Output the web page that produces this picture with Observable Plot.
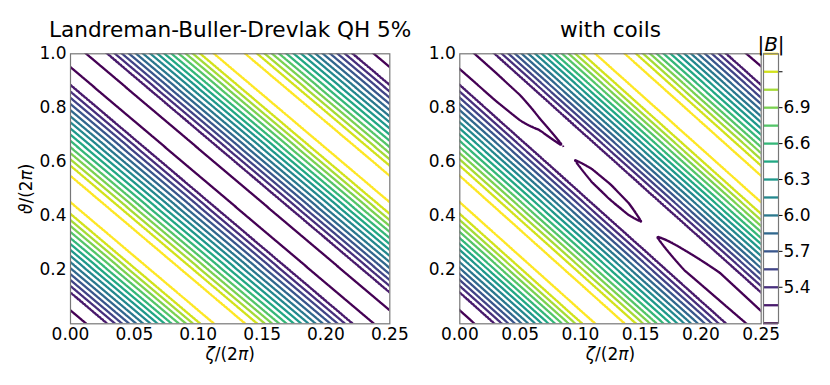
<!DOCTYPE html>
<html><head><meta charset="utf-8">
<script src="https://cdn.jsdelivr.net/npm/d3@7"></script>
<script src="https://cdn.jsdelivr.net/npm/@observablehq/plot@0.6"></script>
<style>
body{margin:0;background:#fff;}
#fig{position:relative;width:830px;height:385px;font-family:"DejaVu Sans";}
#fig svg{position:absolute;top:0;}
</style></head><body><div id="fig"></div>
<script>
// contour levels of |B| (colorbar)
const levels = [5.1,5.25,5.4,5.55,5.7,5.85,6.0,6.15,6.3,6.45,6.6,6.75,6.9,7.05,7.2,7.35];
// helical phase u = θ/(2π) + 4·ζ/(2π) (mod 1) where each level is crossed, read on the left edge
// rising side, levels 5.25 … 7.35
const riseU = [0.117,0.140,0.162,0.184,0.206,0.228,0.251,0.273,0.295,0.317,0.340,0.362,0.384,0.406,0.449];
// falling side, levels 5.25 … 7.35
const fallU = [0.883,0.860,0.837,0.814,0.791,0.768,0.746,0.723,0.700,0.677,0.654,0.632,0.609,0.586,0.549];
const peakU = 0.5, peakB = 7.43;
const helicity = 4;
// minimum of |B| along the valley and its phase offset, vs ζ/(2π)
const leftValleyX = [0, 0.25];
const leftValleyB = [4.99, 4.99];
const leftValleyShift = [0, 0];
const rightValleyX = [0, 0.03, 0.05, 0.066, 0.086, 0.09, 0.095, 0.11, 0.125, 0.14, 0.151, 0.157, 0.163, 0.186, 0.216, 0.25];
const rightValleyB = [4.975, 4.98, 5.0, 5.065, 5.1, 5.125, 5.1, 5.06, 5.05, 5.065, 5.1, 5.125, 5.1, 5.03, 4.98, 5.0];
const rightValleyShift = [-0.007, -0.005, 0.0, 0.005, 0.0, -0.008, -0.012, -0.016, -0.017, -0.018, -0.02, -0.022, -0.024, -0.028, 0.0, 0.0];
// axes
const xTicks = [0, 0.05, 0.1, 0.15, 0.2, 0.25];
const yTicks = [0.2, 0.4, 0.6, 0.8, 1.0];
const cbarTicks = [5.4, 5.7, 6.0, 6.3, 6.6, 6.9, 7.2];
const titles = ["Landreman-Buller-Drevlak QH 5%", "with coils"];

function lerp(xs, ys, x) {
  if (x <= xs[0]) return ys[0];
  for (let i = 1; i < xs.length; i++) if (x <= xs[i]) {
    const t = (x - xs[i-1]) / (xs[i] - xs[i-1]);
    return ys[i-1] + t * (ys[i] - ys[i-1]);
  }
  return ys[ys.length - 1];
}
const u0 = fallU[0] - 1; // start of one period, on the 5.25 line below the valley
function knots(v, s) {
  const ku = [u0, s], kb = [levels[1], v];
  for (let i = 1; i < levels.length; i++) { ku.push(riseU[i-1]); kb.push(levels[i]); }
  ku.push(peakU); kb.push(peakB);
  for (let i = levels.length - 1; i >= 1; i--) { ku.push(fallU[i-1]); kb.push(levels[i]); }
  return [ku, kb];
}
function field(vx, vb, vs) {
  const nx = 130, ny = 380, x1 = -0.006, x2 = 0.256, y1 = -0.03, y2 = 1.03;
  const values = new Float64Array(nx * ny);
  for (let i = 0; i < nx; i++) {
    const x = x1 + (i + 0.5) * (x2 - x1) / nx;
    const [ku, kb] = knots(lerp(vx, vb, x), lerp(vx, vs, x));
    for (let j = 0; j < ny; j++) {
      const y = y1 + (j + 0.5) * (y2 - y1) / ny;
      let u = (y + helicity * x - u0) % 1; if (u < 0) u += 1;
      values[j * nx + i] = lerp(ku, kb, u + u0);
    }
  }
  return {values, nx, ny, x1, x2, y1, y2};
}

const color = {type: "linear", scheme: "viridis", domain: [5.1, 7.35]};
const baseStyle = {fontFamily: "DejaVu Sans", fontSize: "17px", background: "none", overflow: "visible"};

function panel(f, o) {
  const marks = [
    Plot.contour(f.values, {width: f.nx, height: f.ny, x1: f.x1, x2: f.x2, y1: f.y1, y2: f.y2,
      stroke: Plot.identity, fill: "none", thresholds: levels, strokeWidth: 2.3, clip: true}),
    Plot.frame({stroke: "#777", strokeWidth: 1.2}),
    Plot.text([o.title], {text: d => d, frameAnchor: "top", dy: -17.3, textAnchor: "middle", lineAnchor: "bottom", fontSize: 21.6}),
    Plot.text(["ζ/(2π)"], {text: d => d, frameAnchor: "bottom", dy: 35.7, textAnchor: "middle", lineAnchor: "bottom"})
  ];
  if (o.ylabel) marks.push(Plot.text(["ϑ/(2π)"], {text: d => d, frameAnchor: "left", dx: -39, rotate: -90, textAnchor: "middle", lineAnchor: "bottom"}));
  return Plot.plot({
    width: o.width, height: 385, marginLeft: o.ml, marginRight: o.mr, marginTop: 53.3, marginBottom: 61.7,
    style: baseStyle,
    x: {domain: [0, 0.25], ticks: xTicks, tickFormat: d3.format(".2f"), label: null, tickSize: 0, tickPadding: 4},
    y: {domain: [0, 1], ticks: yTicks, tickFormat: d3.format(".1f"), label: null, tickSize: 0, tickPadding: 4},
    color,
    marks
  });
}

const left = panel(field(leftValleyX, leftValleyB, leftValleyShift), {width: 420, ml: 70, mr: 30.7, title: titles[0], ylabel: true});
const right = panel(field(rightValleyX, rightValleyB, rightValleyShift), {width: 345, ml: 39.3, mr: 4.3, title: titles[1]});
const cbar = Plot.plot({
  width: 90, height: 385, marginLeft: 23, marginRight: 52, marginTop: 53.3, marginBottom: 62.3,
  style: baseStyle,
  x: {domain: [0, 1], axis: null},
  y: {domain: [5.1, 7.35], ticks: cbarTicks, tickFormat: d => d === 7.2 ? "" : d.toFixed(1), axis: "right", tickSize: 3.5, tickPadding: 1.5, label: null},
  color,
  marks: [
    Plot.ruleY(levels, {y: d => d, stroke: d => d, strokeWidth: 2.3}),
    Plot.frame({stroke: "#777", strokeWidth: 1.2}),
    Plot.text(["|B|"], {text: d => d, frameAnchor: "top", dy: -3.3, textAnchor: "middle", lineAnchor: "bottom", fontSize: 20})
  ]
});

const special = {
  "ζ/(2π)": [["ζ", 1], ["/(2", 0], ["π", 1], [")", 0]],
  "ϑ/(2π)": [["ϑ", 1], ["/(2", 0], ["π", 1], [")", 0]],
  "|B|": [["|", 0], ["B", 1], ["|", 0]]
};
function italicize(svg) {
  d3.select(svg).selectAll("text").each(function() {
    const parts = special[this.textContent];
    if (!parts) return;
    this.textContent = "";
    for (const [s, it] of parts) {
      const t = document.createElementNS("http://www.w3.org/2000/svg", "tspan");
      t.textContent = s;
      if (it) t.setAttribute("font-style", "italic");
      this.appendChild(t);
    }
  });
}
const fig = document.getElementById("fig");
[[left, 0], [right, 420], [cbar, 740]].forEach(([s, x]) => {
  italicize(s);
  s.style.left = x + "px";
  fig.appendChild(s);
});
</script></body></html>
